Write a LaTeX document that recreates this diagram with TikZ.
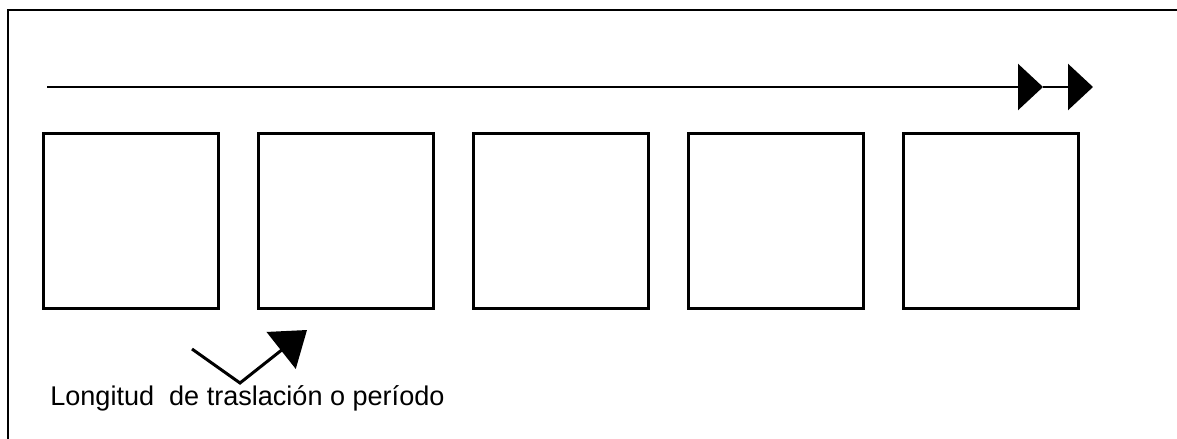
\documentclass[tikz,border=0pt]{standalone}
\usepackage{fontspec}
\setmainfont{Liberation Sans}
\usetikzlibrary{positioning,arrows.meta}
\begin{document}
\begin{tikzpicture}[x=0.02cm, y=0.02cm, every node/.style={font=\fontsize{15.4}{18}\selectfont},
  cell/.style={draw, line width=0.06cm, minimum size=3.5cm, inner sep=0pt}]
  \useasboundingbox (0,0) rectangle (1177,439);
  \draw[line width=0.045cm] (8,0) -- (8,429) -- (1177,429);
  \node[cell] (c1) at (131,218) {};
  \node[cell, right=0.74cm of c1] (c2) {};
  \node[cell, right=0.74cm of c2] (c3) {};
  \node[cell, right=0.74cm of c3] (c4) {};
  \node[cell, right=0.74cm of c4] (c5) {};
  \coordinate (a) at (47,352);
  \coordinate (b) at (1043,352);
  \coordinate (c) at (1093,352);
  \draw[line width=0.05cm, -{Triangle[length=0.5cm, width=0.92cm]}] (a) -- (b);
  \draw[line width=0.05cm, -{Triangle[length=0.5cm, width=0.92cm]}] (b) -- (c);
  \coordinate (p) at (192,90);
  \coordinate (q) at (240,56);
  \coordinate (r) at (307,109);
  \draw[line width=0.06cm, -{Triangle[length=0.66cm, width=0.93cm]}] (p) -- (q) -- (r);
  \node[anchor=base west, inner sep=0pt] (lbl) at (50,33) {Longitud \ de traslación o período};
\end{tikzpicture}
\end{document}
